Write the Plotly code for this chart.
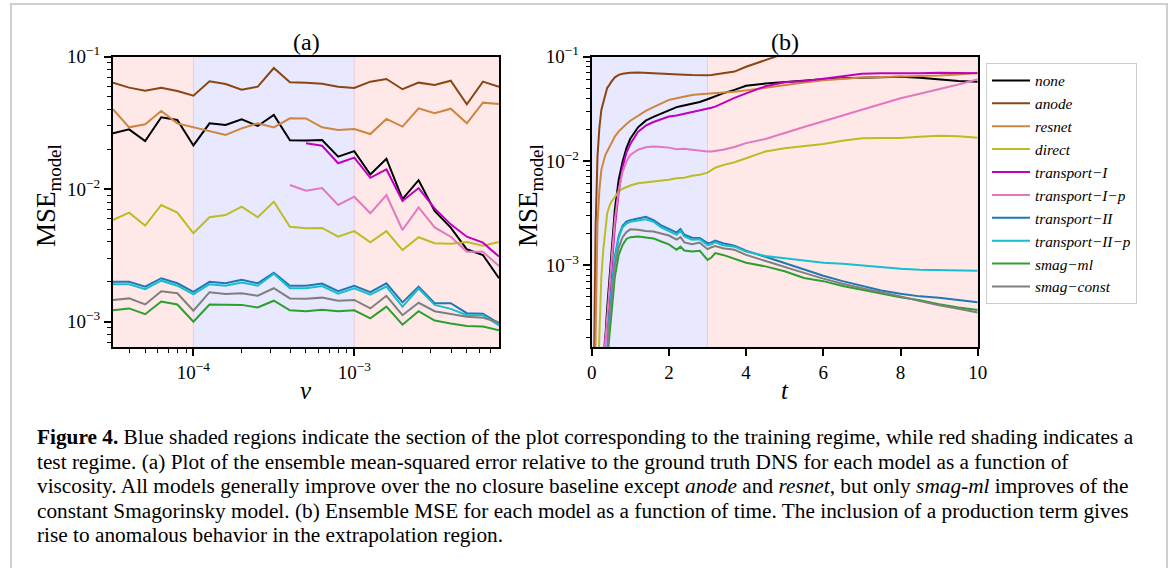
import plotly.graph_objects as go

# ---------------- data ----------------
NAMES = ["none", "anode", "resnet", "direct", "transport−I", "transport−I−p",
         "transport−II", "transport−II−p", "smag−ml", "smag−const"]
COLORS = ["#000000", "#8B4513", "#CD853F", "#BCBD22", "#C000C0", "#E377C2",
          "#1F77B4", "#17BECF", "#2CA02C", "#7F7F7F"]

# panel (a): viscosity
NU = [3.162e-5, 3.981e-5, 5.012e-5, 6.310e-5, 7.943e-5, 1.000e-4, 1.259e-4, 1.585e-4,
      1.995e-4, 2.512e-4, 3.162e-4, 3.981e-4, 5.012e-4, 6.310e-4, 7.943e-4, 1.000e-3,
      1.259e-3, 1.585e-3, 1.995e-3, 2.512e-3, 3.162e-3, 3.981e-3, 5.012e-3, 6.310e-3, 7.943e-3]
none_a = [0.0264, 0.0283, 0.0231, 0.0349, 0.0333, 0.0214, 0.0314, 0.0305, 0.0337, 0.0300, 0.0363, 0.0234,
          0.0233, 0.0235, 0.0176, 0.0194, 0.0129, 0.0170, 0.00843, 0.0117, 0.00685, 0.00513, 0.00352,
          0.00319, 0.00213]
anode_a = [0.0637, 0.0584, 0.0553, 0.0584, 0.0551, 0.0508, 0.0652, 0.0622, 0.0563, 0.0594, 0.0822, 0.0641,
           0.0637, 0.0625, 0.0594, 0.0581, 0.0648, 0.0679, 0.0568, 0.0637, 0.0611, 0.0659, 0.0438,
           0.0648, 0.0594]
resnet_a = [0.0401, 0.0293, 0.0309, 0.0389, 0.0314, 0.0293, 0.0274, 0.0257, 0.0288, 0.0314, 0.0293, 0.0343,
            0.0342, 0.0293, 0.0280, 0.0285, 0.0261, 0.0339, 0.0297, 0.0408, 0.0374, 0.0405, 0.0314,
            0.0450, 0.0440]
direct_a = [0.00586, 0.00666, 0.00531, 0.0076, 0.00666, 0.00465, 0.00614, 0.00638, 0.00738, 0.00614,
            0.00805, 0.00521, 0.00507, 0.0051, 0.00438, 0.00483, 0.00397, 0.00483, 0.00347, 0.00434,
            0.00391, 0.00388, 0.0040, 0.00375, 0.0040]
transport_I_a = [None, None, None, None, None, None, None, None, None, None, None, None,
                 0.0222, 0.0213, 0.0157, 0.0173, 0.0122, 0.0141, 0.00815, 0.0102, 0.00717, 0.00543,
                 0.00438, 0.00395, 0.00310]
transport_I_p_a = [None, None, None, None, None, None, None, None, None, None, None,
                   0.01076, 0.00975, 0.0102, 0.0076, 0.00878, 0.00658, 0.00904, 0.00492, 0.0073,
                   0.00515, 0.00438, 0.00337, 0.00337, 0.00263]
transport_II_a = [0.0020, 0.0020, 0.00184, 0.00213, 0.00195, 0.00168, 0.0020, 0.00195, 0.00207, 0.00195,
                  0.00234, 0.00187, 0.00187, 0.00194, 0.0017, 0.00187, 0.00167, 0.00195, 0.0014,
                  0.00184, 0.00138, 0.00138, 0.00116, 0.00115, 0.00097]
transport_II_p_a = [0.00192, 0.00192, 0.00176, 0.00204, 0.00187, 0.00161, 0.00192, 0.00187, 0.00198,
                    0.00187, 0.00230, 0.00179, 0.00179, 0.00186, 0.00163, 0.00179, 0.00160, 0.00184,
                    0.0013, 0.00178, 0.00134, 0.00125, 0.00112, 0.00112, 0.00094]
smag_ml_a = [0.00122, 0.00126, 0.00114, 0.00142, 0.00135, 0.0010, 0.00135, 0.00134, 0.00134, 0.00128,
             0.00144, 0.00122, 0.0012, 0.00123, 0.0012, 0.00122, 0.00106, 0.0013, 0.00095, 0.0012,
             0.00102, 0.00097, 0.00093, 0.00092, 0.00086]
smag_const_a = [0.00146, 0.0015, 0.00135, 0.0017, 0.00164, 0.00121, 0.00167, 0.00162, 0.00164, 0.00157,
                0.00179, 0.0015, 0.00149, 0.00152, 0.00144, 0.00146, 0.00126, 0.00157, 0.00112,
                0.00139, 0.0012, 0.00114, 0.00109, 0.00107, 0.00099]

# panel (b): time
T = [0, 0.05, 0.1, 0.15, 0.2, 0.25, 0.3, 0.35, 0.4, 0.45, 0.5, 0.6, 0.7, 0.8, 0.9, 1.0, 1.2, 1.4,
     1.6, 1.8, 2.0, 2.2, 2.3, 2.4, 2.6, 2.8, 3.0, 3.1, 3.2, 3.4, 3.7, 4.0, 4.5, 5.0, 5.5, 6.0, 6.5,
     7.0, 7.5, 8.0, 8.5, 9.0, 9.5, 10.0]
none_b = [1e-6, 1e-6, 1e-6, 1e-6, 1e-6, 1e-6, 6e-5, 1.9e-4, 3.8e-4, 6.5e-4, 0.00135, 0.0034, 0.0066,
          0.0098, 0.0133, 0.0163, 0.0210, 0.0243, 0.0264, 0.0285, 0.0308, 0.0328, 0.0335, 0.0342,
          0.0352, 0.0368, 0.0390, 0.0404, 0.0418, 0.0445, 0.0480, 0.0525, 0.0553, 0.0572, 0.0590,
          0.0608, 0.0622, 0.0632, 0.0638, 0.0643, 0.0628, 0.0605, 0.0585, 0.0575]
anode_b = [1e-6, 1e-4, 0.0022, 0.011, 0.021, 0.0308, 0.037, 0.044, 0.050, 0.053, 0.057, 0.0634, 0.067,
           0.0685, 0.0695, 0.0702, 0.0704, 0.0700, 0.069, 0.0685, 0.068, 0.0676, 0.0674, 0.0672,
           0.0666, 0.0660, 0.0662, 0.0668, 0.0675, 0.069, 0.072, 0.080, 0.093, 0.107, 0.125, 0.145,
           0.17, 0.20, 0.23, 0.26, 0.30, 0.34, 0.38, 0.42]
resnet_b = [1e-6, 1e-5, 2.0e-4, 0.0025, 0.0053, 0.0082, 0.0098, 0.0113, 0.0123, 0.0133, 0.0145, 0.0171,
            0.0192, 0.0210, 0.0226, 0.0243, 0.0273, 0.0302, 0.0328, 0.0355, 0.0385, 0.0400, 0.0408,
            0.0415, 0.0428, 0.0437, 0.0442, 0.0443, 0.0445, 0.0450, 0.0460, 0.0475, 0.0505, 0.0535,
            0.0565, 0.0595, 0.0615, 0.0630, 0.0638, 0.0643, 0.0650, 0.0660, 0.0675, 0.0700]
direct_b = [1e-6, 1e-6, 1e-6, 6e-5, 2.0e-4, 7.7e-4, 0.0014, 0.0022, 0.0031, 0.0036, 0.0040, 0.0045,
            0.0051, 0.0054, 0.0056, 0.0058, 0.0061, 0.0062, 0.0064, 0.0065, 0.0066, 0.0068, 0.00685,
            0.0069, 0.0072, 0.00735, 0.0077, 0.0082, 0.0086, 0.0091, 0.0097, 0.0106, 0.0123, 0.0132,
            0.0139, 0.0145, 0.0156, 0.0165, 0.0166, 0.0166, 0.0170, 0.0174, 0.0172, 0.0167]
transport_I_b = [1e-6, 1e-6, 1e-6, 1e-6, 1e-6, 1e-6, 1.3e-4, 2.0e-4, 2.6e-4, 4.3e-4, 8.5e-4, 0.00234,
                 0.0050, 0.0087, 0.0120, 0.0145, 0.0190, 0.0218, 0.0236, 0.0252, 0.0266, 0.0272,
                 0.0277, 0.0282, 0.0295, 0.0303, 0.0315, 0.0323, 0.0332, 0.0360, 0.0402, 0.0445,
                 0.0520, 0.0568, 0.0585, 0.0615, 0.0650, 0.0685, 0.0692, 0.0688, 0.0695, 0.0702,
                 0.0698, 0.0692]
transport_I_p_b = [1e-6, 1e-6, 1e-6, 1e-6, 1e-6, 1e-6, 1.0e-4, 1.8e-4, 2.8e-4, 5.0e-4, 9.5e-4, 0.0027,
                   0.0053, 0.0078, 0.0099, 0.0114, 0.0128, 0.0135, 0.0137, 0.0136, 0.0134, 0.0129,
                   0.0130, 0.0131, 0.0128, 0.0125, 0.0123, 0.0123, 0.0124, 0.0128, 0.0136, 0.0148,
                   0.0162, 0.0186, 0.0211, 0.0240, 0.0273, 0.0310, 0.0352, 0.0399, 0.0440, 0.0484,
                   0.0540, 0.0607]
transport_II_b = [1e-6, 1e-6, 1e-6, 1e-6, 1e-6, 1e-6, 1e-6, 6e-5, 1.6e-4, 3.0e-4, 5.0e-4, 0.0012,
                  0.0019, 0.00238, 0.00261, 0.0027, 0.0028, 0.0029, 0.0027, 0.0024, 0.00222, 0.00205,
                  0.00222, 0.00195, 0.00183, 0.00182, 0.00162, 0.00165, 0.00172, 0.00162, 0.00153,
                  0.00137, 0.0012, 0.00104, 9.1e-4, 7.9e-4, 7.0e-4, 6.3e-4, 5.7e-4, 5.3e-4, 5.0e-4,
                  4.85e-4, 4.6e-4, 4.4e-4]
transport_II_p_b = [1e-6, 1e-6, 1e-6, 1e-6, 1e-6, 1e-6, 1e-6, 6e-5, 1.55e-4, 2.9e-4, 4.8e-4, 0.00115,
                    0.00183, 0.0023, 0.0025, 0.0026, 0.00268, 0.00275, 0.0026, 0.0023, 0.00212,
                    0.00195, 0.00212, 0.00188, 0.00175, 0.00177, 0.00155, 0.00158, 0.00165, 0.00155,
                    0.0015, 0.00135, 0.00122, 0.00116, 0.0011, 0.00105, 0.00103, 9.9e-4, 9.5e-4,
                    9.2e-4, 9.0e-4, 8.9e-4, 8.85e-4, 8.8e-4]
smag_ml_b = [1e-6, 1e-6, 1e-6, 1e-6, 1e-6, 1e-6, 1e-6, 1e-6, 1.2e-4, 2.0e-4, 3.3e-4, 7.7e-4, 0.00125,
             0.00156, 0.00178, 0.00185, 0.00188, 0.00185, 0.0018, 0.00168, 0.00158, 0.0014, 0.0015,
             0.00138, 0.00135, 0.00137, 0.00112, 0.00118, 0.0013, 0.00125, 0.00114, 0.00105, 9.7e-4,
             8.7e-4, 7.5e-4, 7.0e-4, 6.3e-4, 5.8e-4, 5.3e-4, 4.9e-4, 4.6e-4, 4.2e-4, 3.9e-4, 3.7e-4]
smag_const_b = [1e-6, 1e-6, 1e-6, 1e-6, 1e-6, 1e-6, 1e-6, 5e-5, 1.4e-4, 2.6e-4, 4.3e-4, 9.7e-4,
                0.00148, 0.00185, 0.00207, 0.0022, 0.00218, 0.00212, 0.0021, 0.00202, 0.00192,
                0.00175, 0.00185, 0.00165, 0.00158, 0.00164, 0.00142, 0.00148, 0.00152, 0.00145,
                0.0014, 0.00125, 0.00109, 9.6e-4, 8.4e-4, 7.4e-4, 6.6e-4, 6.0e-4, 5.5e-4, 5.0e-4,
                4.5e-4, 4.1e-4, 3.8e-4, 3.5e-4]

SERIES_A = [none_a, anode_a, resnet_a, direct_a, transport_I_a, transport_I_p_a,
            transport_II_a, transport_II_p_a, smag_ml_a, smag_const_a]
SERIES_B = [none_b, anode_b, resnet_b, direct_b, transport_I_b, transport_I_p_b,
            transport_II_b, transport_II_p_b, smag_ml_b, smag_const_b]

# regimes
TRAIN_NU = (1e-4, 1e-3)
NU_RANGE = (3.162e-5, 7.943e-3)
TRAIN_T = (0, 3)
T_RANGE = (0, 10)

CAPTION = [
    "<b>Figure 4.</b> Blue shaded regions indicate the section of the plot corresponding to the training regime, while red shading indicates a",
    "test regime. (a) Plot of the ensemble mean-squared error relative to the ground truth DNS for each model as a function of",
    "viscosity. All models generally improve over the no closure baseline except <i>anode</i> and <i>resnet</i>, but only <i>smag-ml</i> improves of the",
    "constant Smagorinsky model. (b) Ensemble MSE for each model as a function of time. The inclusion of a production term gives",
    "rise to anomalous behavior in the extrapolation region.",
]

# ---------------- figure ----------------
W, H = 1170, 568
SERIF = "Liberation Serif"
fig = go.Figure()

for i, name in enumerate(NAMES):
    fig.add_trace(go.Scatter(x=NU, y=SERIES_A[i], mode="lines", name="<i>" + name + "</i>",
                             line=dict(color=COLORS[i], width=2), xaxis="x", yaxis="y",
                             showlegend=False, legendgroup=name, connectgaps=False))
for i, name in enumerate(NAMES):
    fig.add_trace(go.Scatter(x=T, y=SERIES_B[i], mode="lines", name="<i>" + name + "</i>",
                             line=dict(color=COLORS[i], width=2), xaxis="x2", yaxis="y2",
                             showlegend=True, legendgroup=name))

BLUE = "rgba(0,0,255,0.09)"
RED = "rgba(255,0,0,0.09)"
EDGE = dict(width=1, color="rgba(200,160,210,0.35)")
shapes = [
    dict(type="rect", xref="x", yref="y domain", x0=NU_RANGE[0], x1=TRAIN_NU[0], y0=0, y1=1,
         fillcolor=RED, line=dict(width=0), layer="below"),
    dict(type="rect", xref="x", yref="y domain", x0=TRAIN_NU[0], x1=TRAIN_NU[1], y0=0, y1=1,
         fillcolor=BLUE, line=EDGE, layer="below"),
    dict(type="rect", xref="x", yref="y domain", x0=TRAIN_NU[1], x1=NU_RANGE[1], y0=0, y1=1,
         fillcolor=RED, line=dict(width=0), layer="below"),
    dict(type="rect", xref="x2", yref="y2 domain", x0=TRAIN_T[0], x1=TRAIN_T[1], y0=0, y1=1,
         fillcolor=BLUE, line=dict(width=0), layer="below"),
    dict(type="rect", xref="x2", yref="y2 domain", x0=TRAIN_T[1], x1=T_RANGE[1], y0=0, y1=1,
         fillcolor=RED, line=EDGE, layer="below"),
    # outer frame of the figure
    dict(type="rect", xref="paper", yref="paper", x0=11 / W, x1=1167 / W, y0=-0.05, y1=1 - 4 / H,
         line=dict(color="#CFCFCF", width=2), fillcolor="rgba(0,0,0,0)", layer="below"),
]


def minor_vals(lo_exp, hi_exp):
    out = []
    for e in range(lo_exp, hi_exp + 1):
        for m in range(2, 10):
            out.append(m * 10.0 ** e)
    return out


def sup(e):
    return "10<sup>−%d</sup>" % e


TICKFONT = dict(family=SERIF, size=19, color="black")
common_axis = dict(showline=True, linecolor="black", linewidth=2, mirror=True, ticks="outside",
                   ticklen=7, tickwidth=1.5, tickcolor="black", showgrid=False, zeroline=False,
                   tickfont=TICKFONT, automargin=False)
minor_common = dict(ticks="outside", ticklen=4, tickwidth=1, tickcolor="black", showgrid=False)

xa = dict(common_axis, type="log", domain=[113 / W, 499 / W], range=[-4.5, -2.1], anchor="y",
          tickmode="array", tickvals=[1e-4, 1e-3], ticktext=[sup(4), sup(3)],
          minor=dict(minor_common, tickmode="array", tickvals=minor_vals(-5, -3)))
ya = dict(common_axis, type="log", domain=[1 - 347.3 / H, 1 - 56.7 / H], range=[-3.193, -1],
          anchor="x", tickmode="array", tickvals=[1e-3, 1e-2, 1e-1], ticktext=[sup(3), sup(2), sup(1)],
          minor=dict(minor_common, tickmode="array", tickvals=minor_vals(-4, -2)))
xb = dict(common_axis, type="linear", domain=[591.7 / W, 977.7 / W], range=[0, 10], anchor="y2",
          tickmode="array", tickvals=[0, 2, 4, 6, 8, 10])
yb = dict(common_axis, type="log", domain=[1 - 347.3 / H, 1 - 56.7 / H], range=[-3.79, -1],
          anchor="x2", tickmode="array", tickvals=[1e-3, 1e-2, 1e-1], ticktext=[sup(3), sup(2), sup(1)],
          minor=dict(minor_common, tickmode="array", tickvals=minor_vals(-4, -2)))

annotations = []


def ann(text, x, y, size, xanchor="center", **kw):
    d = dict(text=text, x=x / W, y=1 - y / H, xref="paper", yref="paper", showarrow=False,
             xanchor=xanchor, yanchor="middle",
             font=dict(family=SERIF, size=size, color="black"))
    d.update(kw)
    annotations.append(d)


ann("(a)", 306, 42, 24)
ann("(b)", 785, 42, 24)
ann("<i>ν</i>", 306, 390, 25)
ann("<i>t</i>", 785, 390, 25)
ann("MSE<sub>model</sub>", 48, 196, 27, textangle=-90)
ann("MSE<sub>model</sub>", 530, 196, 27, textangle=-90)

for k, line in enumerate(CAPTION):
    ann(line, 35, 437 + k * 24.6, 21.3, xanchor="left", align="left")

fig.update_layout(
    width=W, height=H, margin=dict(l=0, r=0, t=0, b=0, pad=0, autoexpand=False),
    paper_bgcolor="white", plot_bgcolor="white",
    xaxis=xa, yaxis=ya, xaxis2=xb, yaxis2=yb,
    shapes=shapes, annotations=annotations,
    legend=dict(x=986 / W, y=1 - 63 / H, xanchor="left", yanchor="top",
                bgcolor="white", bordercolor="#CCCCCC", borderwidth=1,
                font=dict(family=SERIF, size=15.3, color="black"),
                itemwidth=38, traceorder="normal", tracegroupgap=0),
    showlegend=True,
)

fig.write_html("out.html", config={"displayModeBar": False},
               post_script="document.body.style.margin='0';")
